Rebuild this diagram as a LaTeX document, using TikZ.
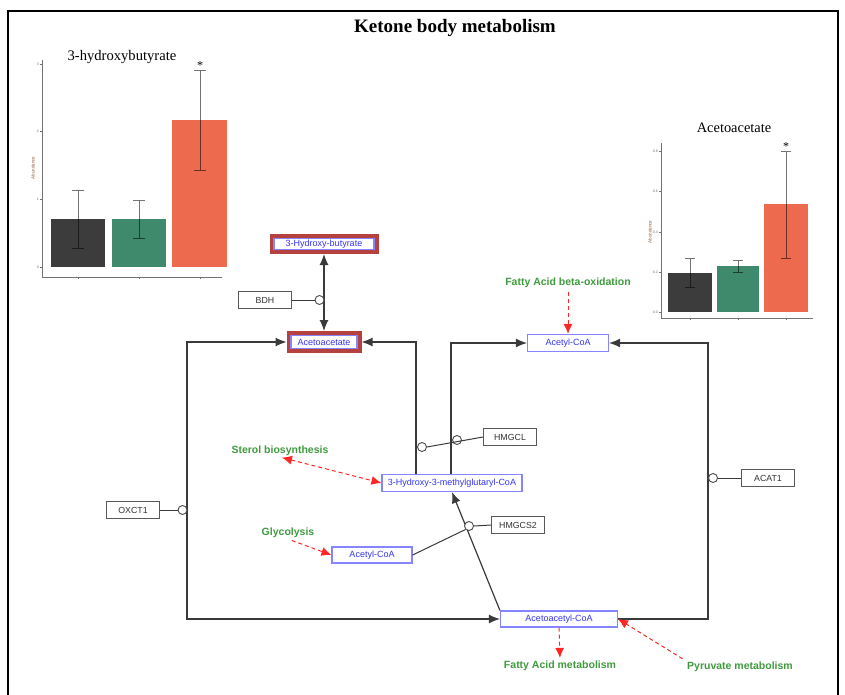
\documentclass[tikz,border=0pt]{standalone}
\usepackage{fontspec}
\setmainfont{Liberation Serif}
\setsansfont{Liberation Sans}
\usetikzlibrary{arrows.meta,positioning,fit}
\definecolor{metblue}{HTML}{3535F5}
\definecolor{metedge}{HTML}{8585FF}
\definecolor{hitred}{HTML}{B5423E}
\definecolor{pathgreen}{HTML}{3F9A3F}
\definecolor{dashred}{HTML}{FF2626}
\definecolor{barblack}{HTML}{3C3C3C}
\definecolor{bargreen}{HTML}{3F8A6D}
\definecolor{barorange}{HTML}{EE6A4E}
\definecolor{linegrey}{HTML}{3A3A3A}
\definecolor{axisbrown}{HTML}{8B5A3C}

\begin{document}
\begin{tikzpicture}[x=1pt, y=-1pt,
  metab/.style={draw=metedge, line width=1.2pt, fill=white, text=metblue, inner sep=0pt, font=\sffamily\fontsize{9}{10}\selectfont},
  gene/.style={draw=black!65, line width=1pt, fill=white, text=black!80, inner sep=0pt, minimum width=53, minimum height=17, font=\sffamily\fontsize{8.8}{10}\selectfont},
  hit/.style={draw=hitred, line width=3.8pt, inner sep=2pt},
  pathlbl/.style={text=pathgreen, inner sep=1pt, font=\sffamily\bfseries\fontsize{10.5}{12}\selectfont},
  knob/.style={circle, draw=black!70, fill=white, line width=0.9pt, minimum size=9, inner sep=0pt},
  rxn/.style={draw=linegrey, line width=1.2pt},
  crosslink/.style={draw=dashred, dashed, line width=1pt, dash pattern=on 4pt off 3pt},
  axisline/.style={draw=black!55, line width=0.8pt},
  errbar/.style={draw=black, opacity=0.55, line width=0.8pt},
  ticklbl/.style={text=black!60, inner sep=0pt, font=\sffamily\fontsize{3.5}{4}\selectfont}
]
  \useasboundingbox (0,0) rectangle (845,695);

  % frame and title
  \draw[line width=1.4pt] (8,695) -- (8,11) -- (838,11) -- (838,695);
  \node[font=\bfseries\fontsize{19}{21}\selectfont] (title) at (455,28) {Ketone body metabolism};

  % 3-hydroxybutyrate chart
  \node[font=\fontsize{14.6}{16}\selectfont] (lchart) at (122,57) {3-hydroxybutyrate};
  \fill[barblack] (51,267) rectangle (105,219);
  \fill[bargreen] (112,267) rectangle (166,219);
  \fill[barorange] (172,267) rectangle (227,120);
  \draw[errbar] (78,248) -- (78,190) (72,248) -- (84,248) (72,190) -- (84,190);
  \draw[errbar] (139,238) -- (139,200) (133,238) -- (145,238) (133,200) -- (145,200);
  \draw[errbar] (200,170) -- (200,70) (194,170) -- (206,170) (194,70) -- (206,70);
  \node[font=\fontsize{12}{12}\selectfont] (lstar) at (200,66) {*};
  \draw[axisline] (42,60) -- (42,277) -- (222,277);
  \draw[axisline] (40,267) -- (42,267) (40,199.3) -- (42,199.3) (40,131.6) -- (42,131.6) (40,64) -- (42,64);
  \draw[axisline] (78,277) -- (78,279) (139,277) -- (139,279) (200,277) -- (200,279);
  \node[ticklbl, left] (l0) at (39,267) {0};
  \node[ticklbl, left] (l1) at (39,199.3) {1};
  \node[ticklbl, left] (l2) at (39,131.6) {2};
  \node[ticklbl, left] (l3) at (39,64) {3};
  \node[rotate=90, text=axisbrown, font=\sffamily\fontsize{4.5}{5}\selectfont] (lylab) at (33,168) {Abundance};

  % acetoacetate chart
  \node[font=\fontsize{14.4}{16}\selectfont] (rchart) at (734,128) {Acetoacetate};
  \fill[barblack] (668,312) rectangle (712,273);
  \fill[bargreen] (717,312) rectangle (759,266);
  \fill[barorange] (764,312) rectangle (808,204);
  \draw[errbar] (690,287) -- (690,258) (685,287) -- (695,287) (685,258) -- (695,258);
  \draw[errbar] (738,272) -- (738,260) (733,272) -- (743,272) (733,260) -- (743,260);
  \draw[errbar] (786,258) -- (786,151) (781,258) -- (791,258) (781,151) -- (791,151);
  \node[font=\fontsize{12}{12}\selectfont] (rstar) at (786,147) {*};
  \draw[axisline] (661,143) -- (661,318) -- (813,318);
  \draw[axisline] (659,312) -- (661,312) (659,272) -- (661,272) (659,232) -- (661,232) (659,191) -- (661,191) (659,151) -- (661,151);
  \draw[axisline] (690,318) -- (690,320) (738,318) -- (738,320) (786,318) -- (786,320);
  \node[ticklbl, left] (r0) at (658,312) {0.0};
  \node[ticklbl, left] (r1) at (658,272) {0.2};
  \node[ticklbl, left] (r2) at (658,232) {0.4};
  \node[ticklbl, left] (r3) at (658,191) {0.6};
  \node[ticklbl, left] (r4) at (658,151) {0.8};
  \node[rotate=90, text=axisbrown, font=\sffamily\fontsize{4.5}{5}\selectfont] (rylab) at (650,232) {Abundance};

  % compounds
  \node[metab, minimum width=100, minimum height=11] (hbut) at (324,244) {3-Hydroxy-butyrate};
  \node[hit, fit=(hbut)] (hbutF) {};
  \node[metab, minimum width=66, minimum height=13] (acac) at (324,342) {Acetoacetate};
  \node[hit, fit=(acac)] (acacF) {};
  \node[metab, minimum width=81, minimum height=17] (acoa1) at (568,343) {Acetyl-CoA};
  \node[metab, minimum width=140, minimum height=17] (hmg) at (452,483) {3-Hydroxy-3-methylglutaryl-CoA};
  \node[metab, minimum width=80, minimum height=16] (acoa2) at (372,555) {Acetyl-CoA};
  \node[metab, minimum width=117, minimum height=16] (aacoa) at (559,619) {Acetoacetyl-CoA};

  % genes
  \node[gene] (bdh) at (265,300) {BDH};
  \node[gene] (oxct) at (133,510) {OXCT1};
  \node[gene] (hmgcl) at (510,437) {HMGCL};
  \node[gene] (hmgcs) at (518,525) {HMGCS2};
  \node[gene] (acat) at (768,478) {ACAT1};

  % linked pathways
  \node[pathlbl] (fabo) at (568,283) {Fatty Acid beta-oxidation};
  \node[pathlbl] (sterol) at (280,451) {Sterol biosynthesis};
  \node[pathlbl] (glyc) at (288,533) {Glycolysis};
  \node[pathlbl] (fam) at (560,666) {Fatty Acid metabolism};
  \node[pathlbl] (pyr) at (740,667) {Pyruvate metabolism};

  % corners of the reaction lines
  \coordinate (lftop) at (187,342);
  \coordinate (lfbot) at (187,619);
  \coordinate (splitL) at (416,342);
  \coordinate (splitR) at (451,343);
  \coordinate (rttop) at (708,343);
  \coordinate (rtbot) at (708,619);

  % reactions
  \draw[rxn, {Latex[length=11pt,width=9pt]}-{Latex[length=11pt,width=9pt]}] (acacF.north) -- (hbutF.south);
  \draw[rxn, {Latex[length=11pt,width=9pt]}-{Latex[length=11pt,width=9pt]}] (acacF.west) -- (lftop) -- (lfbot) -- (aacoa.west);
  \draw[rxn, -{Latex[length=11pt,width=9pt]}] (hmg.north -| splitL) -- (splitL) -- (acacF.east);
  \draw[rxn, -{Latex[length=11pt,width=9pt]}] (hmg.north -| splitR) -- (splitR) -- (acoa1.west);
  \draw[rxn, -{Latex[length=11pt,width=9pt]}] (aacoa.east) -- (rtbot) -- (rttop) -- (acoa1.east);
  \draw[rxn, -{Latex[length=11pt,width=9pt]}] (aacoa.north west) -- (hmg.south);

  % enzyme knobs
  \node[knob] (bdhk) at (319.5,300) {};
  \node[knob] (oxk) at (182.5,510) {};
  \node[knob] (clk1) at (422,447) {};
  \node[knob, fill=none] (clk2) at (457,440) {};
  \node[knob] (csk) at (469,526) {};
  \node[knob] (atk) at (713,478) {};
  \draw[rxn, line width=1pt] (bdh.east) -- (bdhk.west);
  \draw[rxn, line width=1pt] (oxct.east) -- (oxk.west);
  \draw[rxn, line width=1pt] (hmgcl.west) -- (clk1.east);
  \draw[rxn, line width=1pt] (hmgcs.west) -- (csk.east);
  \draw[rxn, line width=1pt] (acoa2.east) -- (csk.south west);
  \draw[rxn, line width=1pt] (acat.west) -- (atk.east);

  % links to other pathways
  \draw[crosslink, -{Latex[length=10pt,width=9pt]}, shorten <=3pt] (fabo.south) -- (acoa1.north);
  \draw[crosslink, {Latex[length=10pt,width=9pt]}-{Latex[length=10pt,width=9pt]}, shorten <=2pt] (sterol.south) -- (hmg.west);
  \draw[crosslink, -{Latex[length=10pt,width=9pt]}, shorten <=4pt] (glyc.south) -- (acoa2.west);
  \draw[crosslink, -{Latex[length=10pt,width=9pt]}, shorten >=2pt] (aacoa.south) -- (fam.north);
  \draw[crosslink, -{Latex[length=10pt,width=9pt]}, shorten <=4pt] (pyr.north west) -- (aacoa.east);
\end{tikzpicture}
\end{document}
